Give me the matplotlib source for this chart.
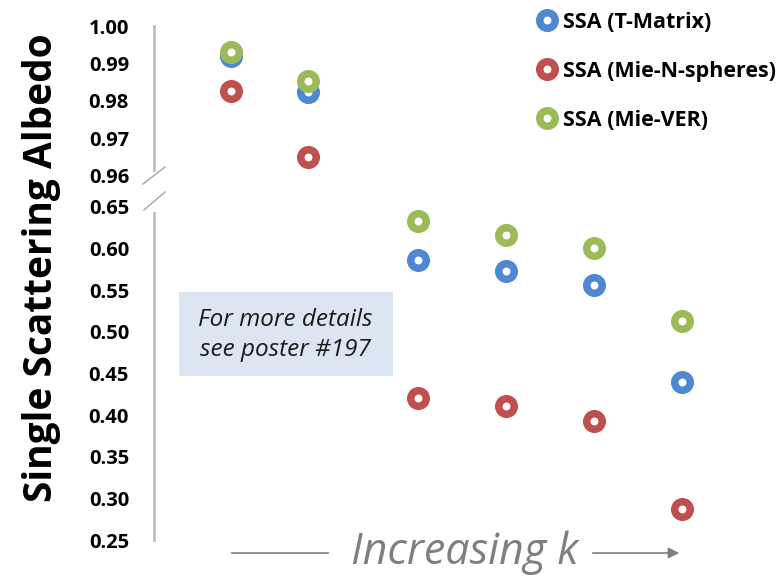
import matplotlib
matplotlib.use("Agg")
import matplotlib.pyplot as plt
from matplotlib.lines import Line2D
from matplotlib.patches import FancyArrowPatch

# ---- data ----
k_index = [1, 2, 3, 4, 5, 6]
ssa_tmatrix = [0.9919, 0.9823, 0.586, 0.573, 0.5565, 0.440]
ssa_mie_n = [0.9825, 0.9649, 0.420, 0.411, 0.393, 0.287]
ssa_mie_ver = [0.9931, 0.9852, 0.633, 0.616, 0.601, 0.513]
series_names = ["SSA (T-Matrix)", "SSA (Mie-N-spheres)", "SSA (Mie-VER)"]
top_ticks = [0.96, 0.97, 0.98, 0.99, 1.00]
bottom_ticks = [0.25, 0.30, 0.35, 0.40, 0.45, 0.50, 0.55, 0.60, 0.65]

colors = ["#4F88D0", "#C0504D", "#9BBB59"]
series = [ssa_tmatrix, ssa_mie_n, ssa_mie_ver]
axis_gray = "#BFBFBF"

plt.rcParams["font.family"] = ["Open Sans", "DejaVu Sans"]

W, H = 781, 577
fig = plt.figure(figsize=(W / 100, H / 100), dpi=100)

def fx(px):
    return px / W

def fy(py):
    return 1 - py / H

left, right = fx(154), fx(770)
ax_top = fig.add_axes([left, fy(175.7), right - left, fy(26) - fy(175.7)])
ax_bot = fig.add_axes([left, fy(540), right - left, fy(207) - fy(540)])

mk = dict(marker="o", linestyle="none", markersize=11.2, markeredgewidth=5.4,
          markerfacecolor="white")

handles = []
for ax, xlim, ylim, ticks in [(ax_top, (0, 8), (0.96, 1.00), top_ticks),
                              (ax_bot, (0, 7), (0.25, 0.65), bottom_ticks)]:
    for name, vals, c in zip(series_names, series, colors):
        h, = ax.plot(k_index, vals, color=c, markeredgecolor=c, label=name, **mk)
        if ax is ax_top:
            handles.append(h)
    ax.set_xlim(*xlim)
    ax.set_ylim(*ylim)
    ax.set_yticks(ticks)
    ax.set_yticklabels([f"{t:.2f}" for t in ticks], fontsize=14.5, fontweight="bold")
    ax.tick_params(axis="y", length=0, pad=18)
    ax.set_xticks([])
    for s in ["top", "right", "bottom"]:
        ax.spines[s].set_visible(False)
    ax.spines["left"].set_color(axis_gray)
    ax.spines["left"].set_linewidth(2)
    ax.patch.set_alpha(0)

ax_top.spines["left"].set_bounds(0.9615, 1.00)
ax_bot.spines["left"].set_bounds(0.25, 0.643)

# break marks
for (x0, y0, x1, y1) in [(143, 184, 165, 167), (144, 210, 165, 192)]:
    fig.add_artist(Line2D([fx(x0), fx(x1)], [fy(y0), fy(y1)], color="#A6A6A6", lw=1))

# y label
fig.text(fx(42), fy(268), "Single Scattering Albedo", rotation=90,
         ha="center", va="center", fontsize=28, fontweight="bold")

# legend
fig.legend(handles=handles, loc="upper left", bbox_to_anchor=(fx(536), fy(12)),
           frameon=False, handlelength=1.0, handletextpad=0.24,
           labelspacing=1.3, borderpad=0, borderaxespad=0,
           prop={"weight": "bold", "size": 15.5})

# annotation box
fig.add_artist(plt.Rectangle((fx(179), fy(376)), fx(393) - fx(179), fy(292) - fy(376),
                             transform=fig.transFigure, facecolor="#DCE6F2",
                             edgecolor="none", zorder=0))
fig.text(fx(285), fy(335), "For more details\nsee poster #197", ha="center",
         va="center", fontsize=17.5, style="italic", linespacing=1.3, color="#1a1a1a")

# x annotation
gray = "#7F7F7F"
fig.text(fx(465), fy(553), "Increasing k", ha="center", va="center",
         fontsize=31, style="italic", color=gray)
fig.add_artist(Line2D([fx(232), fx(328)], [fy(553), fy(553)], color=gray, lw=1.2))
fig.add_artist(FancyArrowPatch((fx(590), fy(553)), (fx(682), fy(553)),
                               transform=fig.transFigure, arrowstyle="-|>",
                               mutation_scale=16, color=gray, lw=1.2))

fig.savefig("out.png", dpi=100)
